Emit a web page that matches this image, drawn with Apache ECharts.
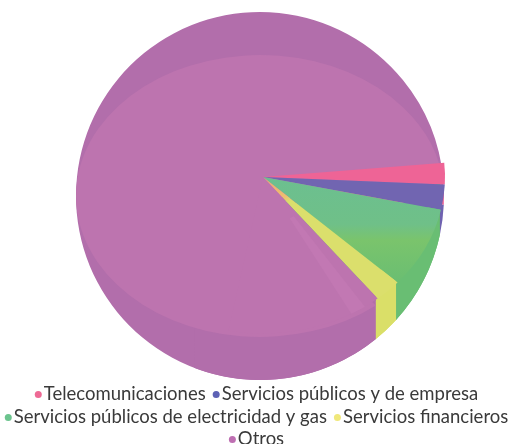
<!DOCTYPE html>
<html><head><meta charset="utf-8">
<style>html,body{margin:0;padding:0;background:#fff}#c{width:513px;height:444px}</style>
<script src="https://cdn.jsdelivr.net/npm/echarts@6/dist/echarts.min.js"></script>
</head><body><div id="c"></div>
<script>
const categories = ['Telecomunicaciones','Servicios públicos y de empresa','Servicios públicos de electricidad y gas','Servicios financieros','Otros'];
const shares = [2.2, 2.6, 8.4, 2.4, 84.4];
const legendRows = [categories.slice(0,2), categories.slice(2,4), categories.slice(4)];
const rimColors = ['#EE6496','#6F62B0','#69BE73','#DADF68','#B26EAB'];
const legendColors = ['#EE6A95','#5D62B5','#6CC48E','#F0E87B','#BE6FB2'];
const topColors = ['#EE6496','#7165B1',
  {type:'linear',x:0,y:0,x2:0,y2:1,colorStops:[{offset:0,color:'#6CBF90'},{offset:.45,color:'#6FC088'},{offset:.6,color:'#7AC46C'},{offset:1,color:'#6ABE72'}]},
  {type:'linear',x:0,y:0,x2:1,y2:1,colorStops:[{offset:0,color:'#EFA874'},{offset:.16,color:'#EDBE70'},{offset:.2,color:'#DBDF6C'},{offset:1,color:'#DBDF6C'}]},
  '#BD74AF'];
const startDeg = -5.2;
const wallHeight = 65;
const wallOrder = [4,2,3];
const rad = d => d*Math.PI/180;
const cum = shares.reduce((a,v)=>{a.push(a[a.length-1]+v*3.6);return a;},[startDeg]);

const rim = {cx:260, cy:196, r:184};
const face = {cx:263, cy:177, r:182, sy:0.86};
const ell = {sy:0.766};

function sector(c, sy, a0, a1, fill, r0){
  return {type:'sector', x:c.cx, y:c.cy, scaleY:sy,
    shape:{cx:0,cy:0,r:c.r,r0:r0||0,startAngle:rad(a0),endAngle:rad(a1),clockwise:true},
    style:{fill:fill}, silent:true};
}
function wall(a0, a1, fill){
  const n = Math.max(2, Math.ceil((a1-a0)/2));
  const low = [], up = [];
  for(let k=0;k<=n;k++){
    const a = rad(a0+(a1-a0)*k/n);
    const x = rim.cx+rim.r*Math.cos(a), y = rim.cy+rim.r*Math.sin(a);
    low.push([x,y]); up.unshift([x,y-wallHeight]);
  }
  return {type:'polygon', shape:{points:low.concat(up)}, style:{fill:fill}, silent:true};
}

const option = {
  animation:false,
  color:rimColors,
  legend: legendRows.map((row,i)=>({
    data: row.map(n=>({name:n, itemStyle:{color:legendColors[categories.indexOf(n)]}})),
    left:'center', top:[385,408,430][i], icon:'circle', itemWidth:7, itemHeight:7, itemGap:7,
    selectedMode:false, padding:0,
    textStyle:{fontFamily:'Lato',fontSize:18.5,color:'#3a3a3a',padding:[0,0,0,-3]}
  })),
  series:[
    {type:'pie', name:'Participación', center:[rim.cx,rim.cy], radius:rim.r, startAngle:-startDeg, clockwise:true, z:1,
     silent:true, label:{show:false}, labelLine:{show:false}, emphasis:{disabled:true},
     data:categories.map((n,i)=>({name:n,value:shares[i],itemStyle:{color:rimColors[i]}}))},
    {type:'custom', name:'Pared', coordinateSystem:'none', z:2, silent:true, data:wallOrder,
     renderItem:(p)=>{
       const i=wallOrder[p.dataIndex];
       return i===4 ? wall(cum[4], cum[4]+60, rimColors[4]) : wall(cum[i], cum[i+1], rimColors[i]);
     }},
    {type:'custom', name:'Cara superior', coordinateSystem:'none', z:3, silent:true, data:[shares[4]],
     renderItem:()=>sector(rim, ell.sy, cum[4], cum[5], topColors[4])},
    {type:'custom', name:'Porciones', coordinateSystem:'none', z:4, silent:true, data:shares,
     renderItem:(p)=>{
       const i=p.dataIndex;
       if(i<4) return sector(face, face.sy, cum[i], cum[i+1], topColors[i]);
       return {type:'group',children:[
         sector(face, face.sy, cum[4], cum[4]+50, topColors[4]),
         sector(face, face.sy, cum[4]+5, cum[4]+10, '#C278B3', 55)
       ]};
     }}
  ]
};
const chart = echarts.init(document.getElementById('c'),null,{renderer:'canvas'});
chart.setOption(option);
</script></body></html>
